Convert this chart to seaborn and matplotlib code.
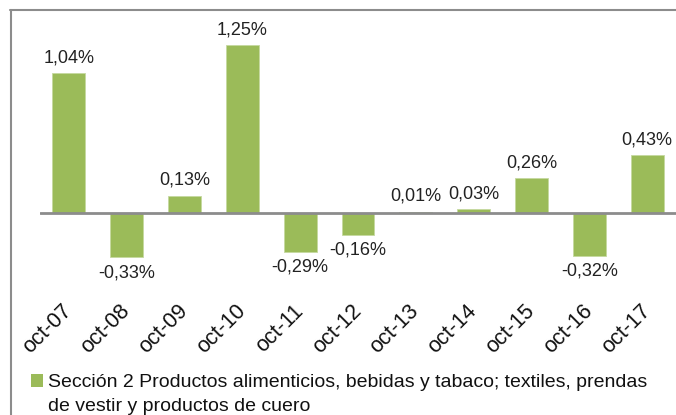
import matplotlib
matplotlib.use("Agg")
import matplotlib.pyplot as plt
import seaborn as sns
from matplotlib.lines import Line2D
from matplotlib.patches import Patch

# -----------------------------
# Data
# -----------------------------
months = ["oct-07", "oct-08", "oct-09", "oct-10", "oct-11", "oct-12",
          "oct-13", "oct-14", "oct-15", "oct-16", "oct-17"]
variation = [1.04, -0.33, 0.13, 1.25, -0.29, -0.16, 0.01, 0.03, 0.26, -0.32, 0.43]
legend_line1 = "Sección 2 Productos alimenticios, bebidas y tabaco; textiles, prendas"
legend_line2 = "de vestir y productos de cuero"

bar_color = "#9BBB59"
grey = "#8C8C8C"

# -----------------------------
# Figure
# -----------------------------
sns.set_style("white")
plt.rcParams["font.family"] = ["Liberation Sans", "DejaVu Sans"]

W, H = 676, 415
fig = plt.figure(figsize=(W / 100, H / 100), dpi=100)
ax = fig.add_axes([40 / W, 1 - 290 / H, 1 - 40 / W, (290 - 25) / H])

sns.barplot(x=months, y=variation, color=bar_color, saturation=1,
            width=0.57, edgecolor="#C5D9A0", linewidth=0.6, ax=ax)

ax.set_ylim(-0.573, 1.399)
ax.set_xlim(-0.5, len(months) - 0.5)
ax.axhline(0, color=grey, lw=2, zorder=3)

labels = [f"{v:.2f}%".replace(".", ",") for v in variation]
ax.bar_label(ax.containers[0], labels=labels, padding=5, fontsize=13,
             color="#222222")

ax.set_yticks([])
ax.tick_params(axis="x", length=0, pad=13)
for t in ax.get_xticklabels():
    t.set_rotation(45)
    t.set_ha("right")
    t.set_va("center")
    t.set_rotation_mode("anchor")
    t.set_fontsize(15.5)
    t.set_color("#111111")
ax.set_xlabel("")
ax.set_ylabel("")
sns.despine(ax=ax, left=True, bottom=True, top=True, right=True)

# outer frame (chart area border)
fig.add_artist(Line2D([10.5 / W, 10.5 / W], [0, 1 - 10 / H], color=grey, lw=1.5,
                      transform=fig.transFigure))
fig.add_artist(Line2D([10 / W, 1], [1 - 10 / H, 1 - 10 / H], color=grey, lw=1.5,
                      transform=fig.transFigure))

# legend
leg_fs = 14
leg = fig.legend(handles=[Patch(facecolor=bar_color, edgecolor="none")],
                 labels=[legend_line1], loc="upper left",
                 bbox_to_anchor=(31 / W, 1 - 374 / H), frameon=False,
                 fontsize=leg_fs, handlelength=0.62, handleheight=0.62,
                 handletextpad=0.26, borderaxespad=0, borderpad=0)
leg.get_texts()[0].set_color("#111111")

fig.canvas.draw()
bb = leg.get_texts()[0].get_window_extent()
fig.text(bb.x0 / W, (bb.y0 - 24) / H, legend_line2, fontsize=leg_fs,
         ha="left", va="bottom", color="#111111")

fig.savefig("out.png", dpi=100)
